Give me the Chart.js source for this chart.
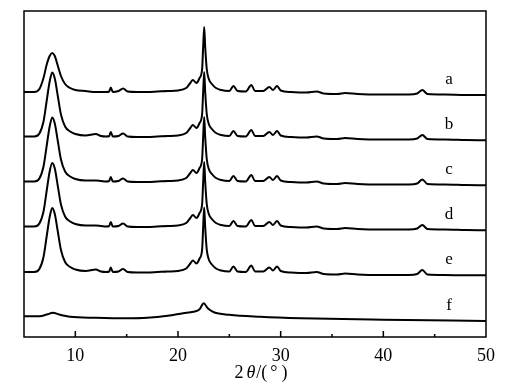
<!DOCTYPE html>
<html>
<head>
<meta charset="utf-8">
<script src="https://cdn.jsdelivr.net/npm/chart.js@4.4.1/dist/chart.umd.min.js"></script>
<style>
  html, body { margin: 0; padding: 0; background: #fff; }
  #wrap { width: 520px; height: 389px; }
</style>
</head>
<body>
<div id="wrap"><canvas id="xrd"></canvas></div>
<script>
// 2θ positions shared by curves a-e
const twoTheta = [5, 6, 6.5, 6.9, 7.2, 7.5, 7.75, 8.0, 8.3, 8.6,
  9.0, 9.5, 10, 11, 12, 12.5, 13, 13.3, 13.45, 13.65,
  14.2, 14.65, 15.1, 16, 17, 18, 19, 20, 20.8, 21.2,
  21.45, 21.8, 22.1, 22.35, 22.45, 22.55, 22.65, 22.8, 23.0, 23.3,
  23.7, 24.2, 25, 25.4, 25.8, 26.6, 27.15, 27.5, 28.3, 28.9,
  29.25, 29.65, 30, 31, 32.5, 33.5, 34.2, 35.5, 36.3, 37.5,
  40, 42.5, 43.3, 43.8, 44.3, 46, 48, 50];

// intensities (arbitrary units, curves stacked)
const curveA = [245, 245, 248, 259, 272, 281, 284, 281, 271, 261,
  253, 249, 247, 246, 245, 245, 245, 245.5, 249.5, 245,
  246, 248.5, 245.5, 245, 245, 245.5, 246, 246.5, 249, 254,
  257, 254, 259, 268, 290, 310, 290, 268, 258, 253,
  249, 247, 246, 251, 246, 245.5, 252, 246, 246, 250,
  247, 251, 246.5, 245, 244.5, 245.5, 243.5, 243, 244, 243,
  242.5, 242.5, 243.5, 247, 243, 242.5, 242, 242];
const curveB = [200.5, 200.5, 203.5, 215.5, 235.5, 255.5, 264.5, 258.5, 240.5, 222.5,
  210.5, 205.5, 203, 201.5, 203, 201, 200.5, 201, 205, 200.5,
  201, 203.5, 200.5, 200, 200, 200.5, 201, 201.5, 204, 209,
  212, 209, 214, 223, 245, 265, 245, 223, 213, 208,
  204, 202, 201, 206, 201, 200.5, 207, 201, 201, 205,
  202, 206, 201.5, 200, 199.5, 200.5, 198.5, 198, 199, 198,
  197.5, 197.5, 198.5, 202, 198, 197.5, 197, 196.7];
const curveC = [155.5, 155.5, 158.5, 170.5, 190.5, 210.5, 219.5, 213.5, 195.5, 177.5,
  165.5, 160.5, 158, 156.5, 156.5, 156, 155.5, 156, 160, 155.5,
  156, 158.5, 155.5, 155, 155, 155.5, 156, 156.5, 159, 164,
  167, 164, 169, 178, 200, 220, 200, 178, 168, 163,
  159, 157, 156, 161, 156, 155.5, 162, 156, 156, 160,
  157, 161, 156.5, 155, 154.5, 155.5, 153.5, 153, 154, 153,
  152.5, 152.5, 153.5, 157.5, 153, 152.5, 152, 151.7];
const curveD = [110.5, 110.5, 113.5, 125.5, 145.5, 165.5, 174, 168.5, 150.5, 132.5,
  120.5, 115.5, 113, 111.5, 111.5, 111, 110.5, 111, 115, 110.5,
  111, 113.5, 110.5, 110, 110, 110.5, 111, 111.5, 114, 119,
  122, 119, 124, 133, 155, 175, 155, 133, 123, 118,
  114, 112, 111, 116, 111, 110.5, 117, 111, 111, 115,
  112, 116, 111.5, 110, 109.5, 110.5, 108.5, 108, 109, 108,
  107.5, 107.5, 108.5, 112, 108, 107.5, 107, 106.7];
const curveE = [65, 65, 68, 80, 100, 120, 129, 123, 105, 87,
  75, 70, 67.5, 66, 67.5, 65.5, 65, 65.5, 69.5, 65,
  65.5, 68, 65, 64.5, 64.5, 65, 65.5, 66, 68.5, 73.5,
  76.5, 73.5, 78.5, 87.5, 109.5, 129.5, 109.5, 87.5, 77.5, 72.5,
  68.5, 66.5, 65.5, 70.5, 65.5, 65, 71.5, 65.5, 65.5, 69.5,
  66.5, 70.5, 66, 64.5, 64, 65, 63, 62.5, 63.5, 62.5,
  62, 62, 63, 67, 62.5, 62, 61.7, 61.7];

// curve f has its own 2θ grid
const thetaF = [5, 6.5, 7.3, 7.8, 8.5, 9.5, 12, 15, 17, 19,
  20.5, 21.5, 22.1, 22.5, 22.9, 23.5, 25, 28, 32, 40, 50];
const curveF = [20.7, 20.7, 22.7, 24.2, 22.2, 20.2, 19.2, 18.7, 19.2, 21.2,
  23.7, 25.2, 27.7, 33.7, 28.7, 24.7, 22.2, 20.2, 18.7, 17.2, 16];

const curveNames = ["a", "b", "c", "d", "e", "f"];
const xTicks = [10, 20, 30, 40, 50];

function toPoints(xs, ys) {
  return xs.map((x, i) => ({ x: x, y: ys[i] }));
}

const series = [
  toPoints(twoTheta, curveA),
  toPoints(twoTheta, curveB),
  toPoints(twoTheta, curveC),
  toPoints(twoTheta, curveD),
  toPoints(twoTheta, curveE),
  toPoints(thetaF, curveF)
];

const SERIF = "'Liberation Serif', 'Times New Roman', serif";

// frame, inward ticks, curve names and axis title
const decorPlugin = {
  id: "decor",
  afterDraw(chart) {
    const ctx = chart.ctx;
    const area = chart.chartArea;
    const xs = chart.scales.x;
    const ys = chart.scales.y;
    ctx.save();
    ctx.strokeStyle = "#000";
    ctx.lineWidth = 1.5;
    ctx.strokeRect(area.left, area.top, area.right - area.left, area.bottom - area.top);

    // tick marks pointing into the plot
    for (let v = 10; v < 50; v += 5) {
      const px = xs.getPixelForValue(v);
      const len = v % 10 === 0 ? 6 : 3;
      ctx.beginPath();
      ctx.moveTo(px, area.bottom);
      ctx.lineTo(px, area.bottom - len);
      ctx.stroke();
    }

    // curve names at the right
    ctx.fillStyle = "#000";
    ctx.font = "17px " + SERIF;
    ctx.textAlign = "center";
    ctx.textBaseline = "alphabetic";
    chart.data.datasets.forEach((ds, i) => {
      const last = ds.data[ds.data.length - 1];
      const py = ys.getPixelForValue(last.y) - 11;
      ctx.fillText(curveNames[i], xs.getPixelForValue(46.4), py);
    });

    // axis title 2θ/(°)
    const parts = [
      ["2", "18px " + SERIF, 3],
      ["θ", "italic 18px " + SERIF, 1],
      ["/(", "18px " + SERIF, 3],
      ["°", "18px " + SERIF, 4],
      [")", "18px " + SERIF, 0]
    ];
    let total = 0;
    parts.forEach(p => { ctx.font = p[1]; total += ctx.measureText(p[0]).width + p[2]; });
    let x = (area.left + area.right) / 2 + 6 - total / 2;
    ctx.textAlign = "left";
    parts.forEach(p => {
      ctx.font = p[1];
      ctx.fillText(p[0], x, 378);
      x += ctx.measureText(p[0]).width + p[2];
    });
    ctx.restore();
  }
};

new Chart(document.getElementById("xrd"), {
  type: "line",
  data: {
    datasets: series.map((pts, i) => ({
      label: curveNames[i],
      data: pts,
      borderColor: "#000",
      borderWidth: 2,
      pointRadius: 0,
      cubicInterpolationMode: "monotone",
      fill: false
    }))
  },
  options: {
    responsive: true,
    maintainAspectRatio: false,
    animation: false,
    layout: { padding: { left: 24, top: 11, right: 34, bottom: 0 } },
    plugins: {
      legend: { display: false },
      tooltip: { enabled: false }
    },
    scales: {
      x: {
        type: "linear",
        min: 5,
        max: 50,
        grid: { display: false },
        border: { display: false },
        afterFit: (scale) => { scale.height = 52; },
        ticks: {
          stepSize: 5,
          padding: 0,
          color: "#000",
          font: { family: SERIF, size: 18 },
          maxRotation: 0,
          autoSkip: false,
          callback: (v) => (xTicks.includes(v) ? v : "")
        }
      },
      y: { display: false, min: 0, max: 326 }
    }
  },
  plugins: [decorPlugin]
});
</script>
</body>
</html>
